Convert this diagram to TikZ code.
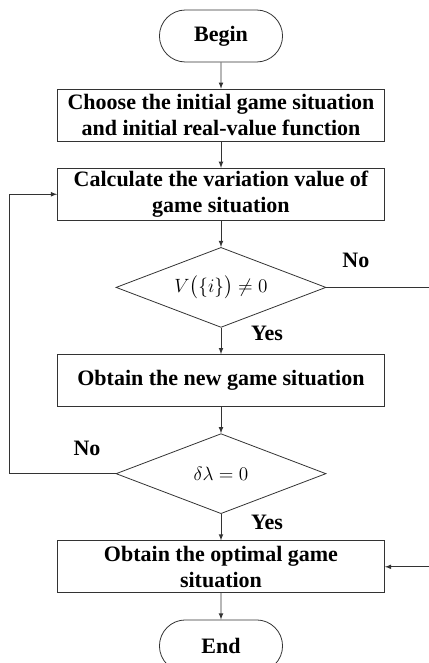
\documentclass[tikz,border=0pt]{standalone}
\usepackage{fontspec}
\setmainfont{Liberation Serif}
\usepackage{amsmath}
\usetikzlibrary{positioning}
\usetikzlibrary{shapes,arrows}
\tikzset{
	block/.style={
		rectangle,
		align=center,
		minimum width=245.25pt,
		minimum height=39pt,
		inner sep=2pt,
		font=\fontsize{16.5}{19.5}\selectfont\bfseries
	},
	terminal/.style={
		rounded rectangle,
		minimum width=99pt,
		minimum height=39pt,
		font=\fontsize{16.5}{19.5}\selectfont\bfseries
	},
	decision/.style={
		diamond,
		aspect=2.625,
		minimum width=157.5pt,
		minimum height=60pt,
		inner sep=0pt,
		font=\fontsize{14.5}{17}\selectfont
	},
	lbl/.style={
		font=\fontsize{16.5}{19.5}\selectfont\bfseries
	},
	every node/.append style={draw=black!80, line width=0.6pt},
	every path/.append style={line width=0.6pt}
}

\begin{document}
\begin{tikzpicture}[node distance=19.75pt]
		\useasboundingbox (-165.75pt,27pt) rectangle (155.25pt,-470.25pt);
		\draw node[draw, terminal](Begin){Begin};
		\draw node[draw, block, below=of Begin](Init){Choose the initial game situation\\ and initial real-value function};
		\draw node[draw, block, below=of Init](Calc){Calculate the variation value of\\ game situation};
		\draw node[draw, decision, below=of Calc](CheckV){$V\bigl(\{i\}\bigr)\neq 0$};
		\draw node[draw, block, below=of CheckV](NewSit){Obtain the new game situation};
		\draw node[draw, decision, below=of NewSit](CheckL){$\delta\lambda=0$};
		\draw node[draw, block, below=of CheckL](Optimal){Obtain the optimal game\\ situation};
		\draw node[draw, terminal, below=of Optimal](End){End};
		\coordinate[right=85pt of CheckV.east](Rgt);
		\coordinate[left=79.5pt of CheckL.west](Lft);
		
		\draw[-latex, black!80] (Begin) -- (Init);
		\draw[-latex, black!80] (Init) -- (Calc);
		\draw[-latex, black!80] (Calc) -- (CheckV);
		\draw[-latex, black!80] (CheckV) -- node[lbl, draw=none, pos=0.2, right=19pt, text=black]{Yes} (NewSit);
		\draw[-latex, black!80] (NewSit) -- (CheckL);
		\draw[-latex, black!80] (CheckL) -- node[lbl, draw=none, pos=0.3, right=19pt, text=black]{Yes} (Optimal);
		\draw[-latex, black!80] (Optimal) -- (End);
		\draw[-latex, black!80] (CheckV.east) -- node[lbl, draw=none, pos=0.26, above=11pt, text=black]{No} (Rgt) |- (Optimal.east);
		\draw[-latex, black!80] (CheckL.west) -- node[lbl, draw=none, pos=0.27, above=10pt, text=black]{No} (Lft) |- (Calc.west);
	\end{tikzpicture}
\end{document}
